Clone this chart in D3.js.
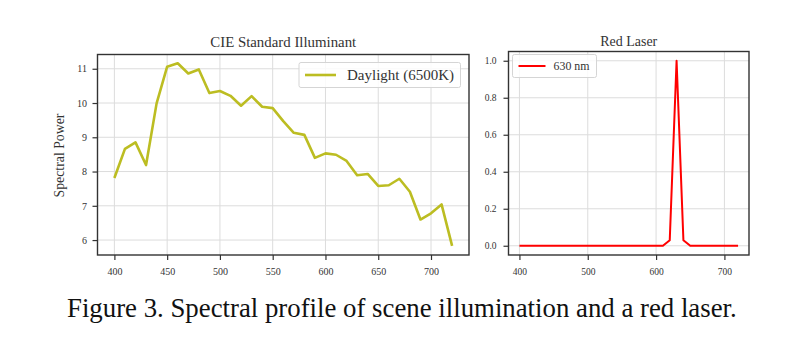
<!DOCTYPE html>
<html><head><meta charset="utf-8">
<script src="https://cdn.jsdelivr.net/npm/d3@7"></script>
<style>body{margin:0;background:#fff}svg{display:block}text{font-family:"Liberation Serif","DejaVu Serif",serif}</style>
</head><body><svg id="c" width="805" height="356"></svg>
<script>
const wavelengths = d3.range(400, 721, 10);
const daylight = [7.81,8.66,8.85,8.19,9.99,11.06,11.16,10.86,10.98,10.29,10.35,10.21,9.92,10.20,9.89,9.85,9.47,9.13,9.07,8.40,8.53,8.49,8.31,7.89,7.93,7.58,7.60,7.79,7.41,6.60,6.78,7.04,5.83];
const laser = wavelengths.map(w => w === 630 ? 1.0 : (w === 620 || w === 640 ? 0.03 : 0));
const leftXTicks = [400,450,500,550,600,650,700];
const leftYTicks = [6,7,8,9,10,11];
const rightXTicks = [400,500,600,700];
const rightYTicks = [0,0.2,0.4,0.6,0.8,1.0];

const svg = d3.select("#c");

function fitText(sel, width){
  const fs = parseFloat(sel.style("font-size"));
  const w = sel.node().getComputedTextLength();
  sel.style("font-size", (fs*width/w).toFixed(2)+"px");
}

function panel(o){
  const g = svg.append("g");
  const x = d3.scaleLinear().domain(o.xd).range([o.l, o.r]);
  const y = d3.scaleLinear().domain(o.yd).range([o.b, o.t]);
  g.append("g").selectAll("line").data(o.xt).join("line")
    .attr("x1", d=>x(d)).attr("x2", d=>x(d)).attr("y1", o.t).attr("y2", o.b)
    .attr("stroke", "#dcdcdc").attr("stroke-width", 1);
  g.append("g").selectAll("line").data(o.yt).join("line")
    .attr("y1", d=>y(d)).attr("y2", d=>y(d)).attr("x1", o.l).attr("x2", o.r)
    .attr("stroke", "#dcdcdc").attr("stroke-width", 1);
  g.append("path").datum(o.ys)
    .attr("d", d3.line().x((d,i)=>x(wavelengths[i])).y(d=>y(d)))
    .attr("fill","none").attr("stroke", o.color).attr("stroke-width", o.lw).attr("stroke-linejoin","round");
  const ax = g.append("g").attr("transform", `translate(0,${o.b})`)
    .call(d3.axisBottom(x).tickValues(o.xt).tickSize(5).tickPadding(8).tickFormat(d3.format("d")));
  const ay = g.append("g").attr("transform", `translate(${o.l},0)`)
    .call(d3.axisLeft(y).tickValues(o.yt).tickSize(5).tickPadding(o.yp).tickFormat(o.yf));
  [ax, ay].forEach(a => {
    a.select(".domain").remove();
    a.selectAll(".tick line").attr("stroke", "#333").attr("stroke-width", 1.2);
    a.selectAll(".tick text").attr("fill", "#333").style("font-size", o.tfs+"px").style("font-family", "'Liberation Serif',serif");
  });
  g.append("rect").attr("x", o.l).attr("y", o.t).attr("width", o.r-o.l).attr("height", o.b-o.t)
    .attr("fill","none").attr("stroke","#333").attr("stroke-width",1.4);
  const t = g.append("text").attr("x", (o.l+o.r)/2).attr("y", o.ty).attr("text-anchor","middle")
    .attr("fill","#333").style("font-size","14px").text(o.title);
  fitText(t, o.tw);
  const lg = o.leg;
  g.append("rect").attr("x", lg.x).attr("y", lg.y).attr("width", lg.w).attr("height", lg.h).attr("rx", 2)
    .attr("fill","#fff").attr("fill-opacity",0.85).attr("stroke","#d5d5d5").attr("stroke-width",1);
  g.append("line").attr("x1", lg.x+6).attr("x2", lg.x+6+lg.ll).attr("y1", lg.y+lg.h/2).attr("y2", lg.y+lg.h/2)
    .attr("stroke", o.color).attr("stroke-width", o.lw);
  const lt = g.append("text").attr("x", lg.x+lg.tx).attr("y", lg.y+lg.h/2).attr("dy","0.35em")
    .attr("fill","#333").style("font-size", "12px").text(lg.label);
  fitText(lt, lg.tw);
}

panel({l:97.5, r:469, t:54.5, b:255, xd:[384,736], yd:[5.564,11.416], xt:leftXTicks, yt:leftYTicks,
  ys: daylight, color:"#bcbd22", lw:2.6, yf:d3.format("d"), title:"CIE Standard Illuminant", ty:47, tw:146, tfs:10, yp:5.5,
  leg:{x:299, y:62.5, w:161.5, h:25, ll:31, tx:48, tw:107, label:"Daylight (6500K)"}});
panel({l:508.5, r:749, t:51.5, b:255, xd:[384,736], yd:[-0.05,1.05], xt:rightXTicks, yt:rightYTicks,
  ys: laser, color:"#ff0000", lw:2, yf:d3.format(".1f"), title:"Red Laser", ty:46, tw:57, tfs:9.5, yp:7,
  leg:{x:512.5, y:54.5, w:84, h:23, ll:27, tx:41, tw:36, label:"630 nm"}});

const yl = svg.append("text").attr("transform","translate(64,155.5) rotate(-90)").attr("text-anchor","middle")
  .attr("fill","#333").style("font-size","14px").text("Spectral Power");
fitText(yl, 84);

const cap = svg.append("text").attr("x", 67).attr("y", 317).attr("fill","#111")
  .style("font-size","21px").text("Figure 3. Spectral profile of scene illumination and a red laser.");
fitText(cap, 670);
</script></body></html>
